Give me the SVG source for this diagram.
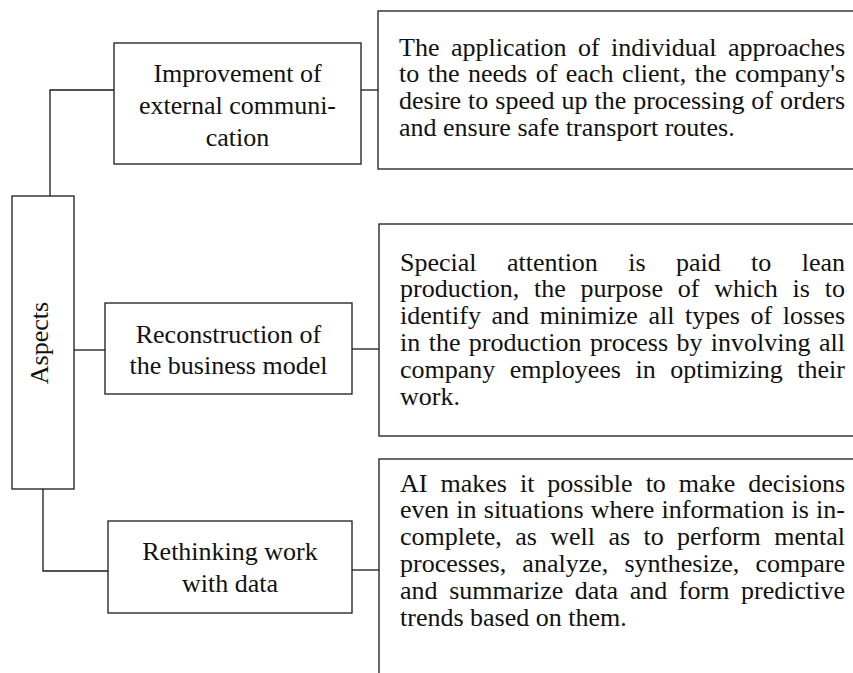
<svg xmlns="http://www.w3.org/2000/svg" width="853" height="673" viewBox="0 0 853 673">
<style>
.box{fill:#fff;stroke:#1a1a1a;stroke-width:1.3}
.ln{fill:none;stroke:#1a1a1a;stroke-width:1.3}
text{font-family:"Liberation Serif","Times New Roman",serif;font-size:26px;fill:#111}
.c{text-anchor:middle}
</style>
<rect width="853" height="673" fill="#fff"/>
<g id="connectors">
<polyline class="ln" points="50,196 50,90 114,90"/>
<line class="ln" x1="361" y1="90" x2="378" y2="90"/>
<line class="ln" x1="74" y1="350" x2="105" y2="350"/>
<line class="ln" x1="352" y1="349" x2="379" y2="349"/>
<polyline class="ln" points="43,489 43,571 108,571"/>
<line class="ln" x1="352" y1="570" x2="379" y2="570"/>
</g>
<g id="aspects">
<rect class="box" x="12" y="196" width="62" height="293"/>
<text class="c" transform="translate(48,343) rotate(-90)">Aspects</text>
</g>
<g id="improvement">
<rect class="box" x="114" y="43" width="247" height="121"/>
<text class="c" x="237.5" y="82">Improvement of</text>
<text class="c" x="237.5" y="114">external communi-</text>
<text class="c" x="237.5" y="146">cation</text>
</g>
<g id="reconstruction">
<rect class="box" x="105" y="303" width="247" height="91"/>
<text class="c" x="228.5" y="343">Reconstruction of</text>
<text class="c" x="228.5" y="374">the business model</text>
</g>
<g id="rethinking">
<rect class="box" x="108" y="521" width="244" height="92"/>
<text class="c" x="230" y="560">Rethinking work</text>
<text class="c" x="230" y="592">with data</text>
</g>
<g id="desc1">
<rect class="box" x="378" y="11" width="490" height="158"/>
<text x="399" y="55.5" word-spacing="5" textLength="446" lengthAdjust="spacing">The application of individual approaches</text>
<text x="399" y="82.3" word-spacing="2" textLength="446" lengthAdjust="spacing">to the needs of each client, the company's</text>
<text x="399" y="109.1" word-spacing="0.5" textLength="446" lengthAdjust="spacing">desire to speed up the processing of orders</text>
<text x="399" y="135.9">and ensure safe transport routes.</text>
</g>
<g id="desc2">
<rect class="box" x="379" y="224" width="490" height="212"/>
<text x="400" y="270.5" word-spacing="23.9" textLength="445" lengthAdjust="spacing">Special attention is paid to lean</text>
<text x="400" y="297.3" word-spacing="8.3" textLength="445" lengthAdjust="spacing">production, the purpose of which is to</text>
<text x="400" y="324.1" word-spacing="4.1" textLength="445" lengthAdjust="spacing">identify and minimize all types of losses</text>
<text x="400" y="350.9" word-spacing="1.9" textLength="445" lengthAdjust="spacing">in the production process by involving all</text>
<text x="400" y="377.7" word-spacing="8" textLength="445" lengthAdjust="spacing">company employees in optimizing their</text>
<text x="400" y="404.5">work.</text>
</g>
<g id="desc3">
<rect class="box" x="379" y="459" width="490" height="230"/>
<text x="400" y="491.5" word-spacing="6.5" textLength="445" lengthAdjust="spacing">AI makes it possible to make decisions</text>
<text x="400" y="518.3" word-spacing="0.7" textLength="445" lengthAdjust="spacing">even in situations where information is in-</text>
<text x="400" y="545.1" word-spacing="6.9" textLength="445" lengthAdjust="spacing">complete, as well as to perform mental</text>
<text x="400" y="571.9" word-spacing="9.7" textLength="445" lengthAdjust="spacing">processes, analyze, synthesize, compare</text>
<text x="400" y="598.7" word-spacing="5.1" textLength="445" lengthAdjust="spacing">and summarize data and form predictive</text>
<text x="400" y="625.5">trends based on them.</text>
</g>
</svg>
